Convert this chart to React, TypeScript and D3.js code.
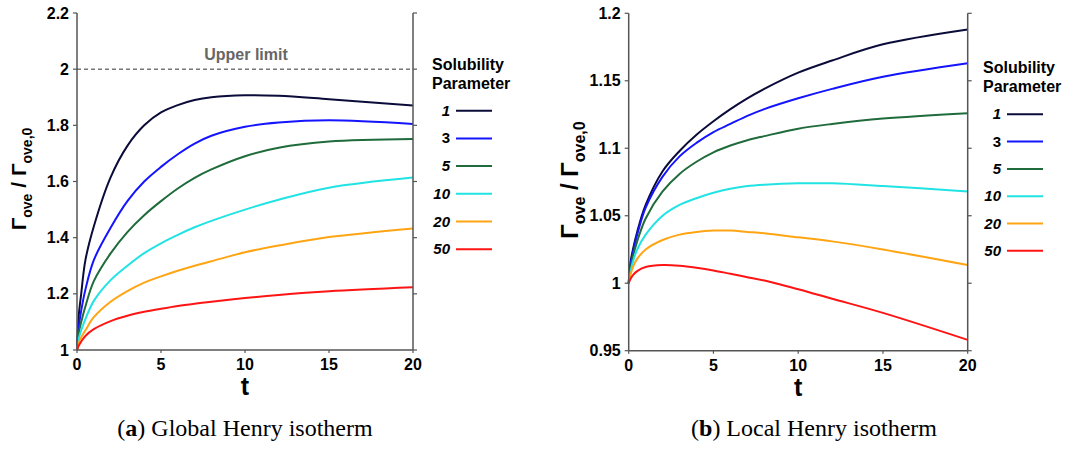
import React from "react";
import * as d3 from "d3";

// Time grid (shared by both panels)
const tValues = [0, 0.1, 0.25, 0.5, 1, 2, 3, 4, 5, 6, 7, 8, 10, 12, 15, 20];

// Solubility parameters and their colours
const solubility = ["1", "3", "5", "10", "20", "50"];
const italicLabel = [true, false, true, true, true, true];
const seriesColors = ["#0b0b3a", "#1414ff", "#1f6b3b", "#22e3e3", "#ffa514", "#ff1414"];

// (a) Global Henry isotherm: Γove / Γove,0
const globalS1 = [1, 1.12, 1.2, 1.32, 1.44, 1.615, 1.727, 1.8, 1.846, 1.872, 1.89, 1.9, 1.907, 1.905, 1.893, 1.871];
const globalS3 = [1, 1.08, 1.14, 1.215, 1.32, 1.435, 1.53, 1.6, 1.652, 1.697, 1.735, 1.763, 1.795, 1.81, 1.818, 1.805];
const globalS5 = [1, 1.06, 1.1, 1.155, 1.245, 1.344, 1.42, 1.48, 1.53, 1.575, 1.613, 1.643, 1.69, 1.72, 1.742, 1.751];
const globalS10 = [1, 1.04, 1.07, 1.11, 1.175, 1.249, 1.3, 1.345, 1.38, 1.41, 1.437, 1.46, 1.5, 1.535, 1.578, 1.614];
const globalS20 = [1, 1.025, 1.045, 1.07, 1.117, 1.172, 1.21, 1.24, 1.262, 1.282, 1.3, 1.316, 1.348, 1.372, 1.402, 1.433];
const globalS50 = [1, 1.015, 1.03, 1.05, 1.074, 1.103, 1.122, 1.136, 1.147, 1.157, 1.165, 1.172, 1.185, 1.196, 1.209, 1.223];

// (b) Local Henry isotherm: Γove / Γove,0
const localS1 = [1, 1.015, 1.025, 1.038, 1.058, 1.083, 1.098, 1.11, 1.12, 1.129, 1.137, 1.144, 1.156, 1.165, 1.177, 1.188];
const localS3 = [1, 1.013, 1.023, 1.036, 1.056, 1.079, 1.094, 1.104, 1.112, 1.118, 1.124, 1.129, 1.137, 1.144, 1.153, 1.163];
const localS5 = [1, 1.01, 1.02, 1.031, 1.048, 1.068, 1.081, 1.09, 1.097, 1.102, 1.106, 1.109, 1.1145, 1.118, 1.122, 1.126];
const localS10 = [1, 1.008, 1.016, 1.025, 1.036, 1.05, 1.058, 1.063, 1.067, 1.07, 1.072, 1.073, 1.074, 1.074, 1.072, 1.068];
const localS20 = [1, 1.006, 1.012, 1.018, 1.025, 1.032, 1.036, 1.038, 1.039, 1.039, 1.038, 1.037, 1.034, 1.031, 1.025, 1.0135];
const localS50 = [1, 1.003, 1.006, 1.009, 1.012, 1.0135, 1.013, 1.0115, 1.0095, 1.007, 1.0045, 1.002, 0.9955, 0.9885, 0.978, 0.958];

// Axis ticks
const xTicks = [0, 5, 10, 15, 20];
const globalYTicks = [1, 1.2, 1.4, 1.6, 1.8, 2, 2.2];
const localYTicks = [0.95, 1, 1.05, 1.1, 1.15, 1.2];
const upperLimit = 2;

const SANS = "Liberation Sans, Arial, Helvetica, sans-serif";
const SERIF = "Liberation Serif, Times New Roman, serif";

type PanelProps = {
  left: number;
  right: number;
  top: number;
  bottom: number;
  yDomain: [number, number];
  yTicks: number[];
  yFormat: (v: number) => string;
  series: number[][];
  upper?: number;
  legendX: number;
  legendTitleY: number;
  legendRowY: number;
  legendStep: number;
  yLabelX: number;
  yLabelY: number;
  yLabelSize: number;
};

function YLabel({ x, y, size }: { x: number; y: number; size: number }) {
  const sub = Math.round(size * 0.68);
  return (
    <text
      transform={`translate(${x},${y}) rotate(-90)`}
      textAnchor="middle"
      fontFamily={SANS}
      fontWeight="bold"
      fontSize={size}
      fill="#000"
    >
      <tspan>Γ</tspan>
      <tspan fontSize={sub} dy={size * 0.28}>ove</tspan>
      <tspan dy={-size * 0.28}> / Γ</tspan>
      <tspan fontSize={sub} dy={size * 0.28}>ove,0</tspan>
    </text>
  );
}

function Panel(p: PanelProps) {
  const x = d3.scaleLinear().domain([0, 20]).range([p.left, p.right]);
  const y = d3.scaleLinear().domain(p.yDomain).range([p.bottom, p.top]);
  const line = d3
    .line<number>()
    .x((_, i) => x(tValues[i]))
    .y((v) => y(v))
    .curve(d3.curveCatmullRom.alpha(0.5));
  const axisColor = "#555";

  return (
    <g>
      {/* upper limit reference */}
      {p.upper !== undefined && (
        <g>
          <line
            x1={p.left}
            x2={p.right}
            y1={y(p.upper)}
            y2={y(p.upper)}
            stroke="#333"
            strokeWidth={1}
            strokeDasharray="4,3"
          />
          <text
            x={(p.left + p.right) / 2 + 1}
            y={y(p.upper) - 9}
            textAnchor="middle"
            fontFamily={SANS}
            fontWeight="bold"
            fontSize={16}
            fill="#666"
          >
            Upper limit
          </text>
        </g>
      )}

      {/* curves */}
      {p.series.map((s, i) => (
        <path key={i} d={line(s) ?? ""} fill="none" stroke={seriesColors[i]} strokeWidth={2} />
      ))}

      {/* axes frame: left, bottom, right */}
      <line x1={p.left} x2={p.left} y1={p.top} y2={p.bottom} stroke={axisColor} strokeWidth={1.5} />
      <line x1={p.right} x2={p.right} y1={p.top} y2={p.bottom} stroke={axisColor} strokeWidth={1.5} />
      <line x1={p.left} x2={p.right} y1={p.bottom} y2={p.bottom} stroke={axisColor} strokeWidth={1.5} />

      {p.yTicks.map((v) => (
        <g key={v}>
          <line x1={p.left - 4} x2={p.left} y1={y(v)} y2={y(v)} stroke={axisColor} strokeWidth={1.2} />
          <line x1={p.right} x2={p.right + 4} y1={y(v)} y2={y(v)} stroke={axisColor} strokeWidth={1.2} />
          <text
            x={p.left - 8}
            y={y(v) + 5.5}
            textAnchor="end"
            fontFamily={SANS}
            fontWeight="bold"
            fontSize={16}
            fill="#000"
          >
            {p.yFormat(v)}
          </text>
        </g>
      ))}

      {xTicks.map((v) => (
        <g key={v}>
          <line x1={x(v)} x2={x(v)} y1={p.bottom} y2={p.bottom + 3} stroke={axisColor} strokeWidth={1.2} />
          <text
            x={x(v)}
            y={p.bottom + 20}
            textAnchor="middle"
            fontFamily={SANS}
            fontWeight="bold"
            fontSize={16}
            fill="#000"
          >
            {v}
          </text>
        </g>
      ))}

      <text
        x={(p.left + p.right) / 2}
        y={p.bottom + 45}
        textAnchor="middle"
        fontFamily={SANS}
        fontWeight="bold"
        fontSize={25}
        fill="#000"
      >
        t
      </text>

      <YLabel x={p.yLabelX} y={p.yLabelY} size={p.yLabelSize} />

      {/* legend */}
      <text fontFamily={SANS} fontWeight="bold" fontSize={16} fill="#000">
        <tspan x={p.legendX} y={p.legendTitleY}>Solubility</tspan>
        <tspan x={p.legendX} y={p.legendTitleY + 19}>Parameter</tspan>
      </text>
      {solubility.map((s, i) => {
        const ly = p.legendRowY + i * p.legendStep;
        return (
          <g key={s}>
            <text
              x={p.legendX + 18}
              y={ly + 5}
              textAnchor="end"
              fontFamily={SANS}
              fontWeight="bold"
              fontStyle={italicLabel[i] ? "italic" : "normal"}
              fontSize={15}
              fill="#000"
            >
              {s}
            </text>
            <line
              x1={p.legendX + 24}
              x2={p.legendX + 60}
              y1={ly}
              y2={ly}
              stroke={seriesColors[i]}
              strokeWidth={2}
            />
          </g>
        );
      })}
    </g>
  );
}

export default function App() {
  const fmtGlobal = (v: number) => (v === 1 || v === 2 ? String(v) : v.toFixed(1));
  const fmtLocal = (v: number) => (v === 1 ? "1" : String(+v.toFixed(2)));
  return (
    <svg
      width={1072}
      height={450}
      style={{ position: "absolute", left: 0, top: 0, background: "#fff" }}
    >
      <rect width={1072} height={450} fill="#fff" />
      <Panel
        left={77}
        right={413}
        top={13}
        bottom={350}
        yDomain={[1, 2.2]}
        yTicks={globalYTicks}
        yFormat={fmtGlobal}
        series={[globalS1, globalS3, globalS5, globalS10, globalS20, globalS50]}
        upper={upperLimit}
        legendX={432}
        legendTitleY={70}
        legendRowY={110.7}
        legendStep={27.7}
        yLabelX={26}
        yLabelY={179}
        yLabelSize={21}
      />
      <Panel
        left={628.7}
        right={967.7}
        top={13.3}
        bottom={350.7}
        yDomain={[0.95, 1.2]}
        yTicks={localYTicks}
        yFormat={fmtLocal}
        series={[localS1, localS3, localS5, localS10, localS20, localS50]}
        legendX={983}
        legendTitleY={73}
        legendRowY={114.3}
        legendStep={27.3}
        yLabelX={578}
        yLabelY={180}
        yLabelSize={24}
      />
      <text x={245} y={436} textAnchor="middle" fontFamily={SERIF} fontSize={24} fill="#000">
        (<tspan fontWeight="bold">a</tspan>) Global Henry isotherm
      </text>
      <text x={814} y={436} textAnchor="middle" fontFamily={SERIF} fontSize={24} fill="#000">
        (<tspan fontWeight="bold">b</tspan>) Local Henry isotherm
      </text>
    </svg>
  );
}
